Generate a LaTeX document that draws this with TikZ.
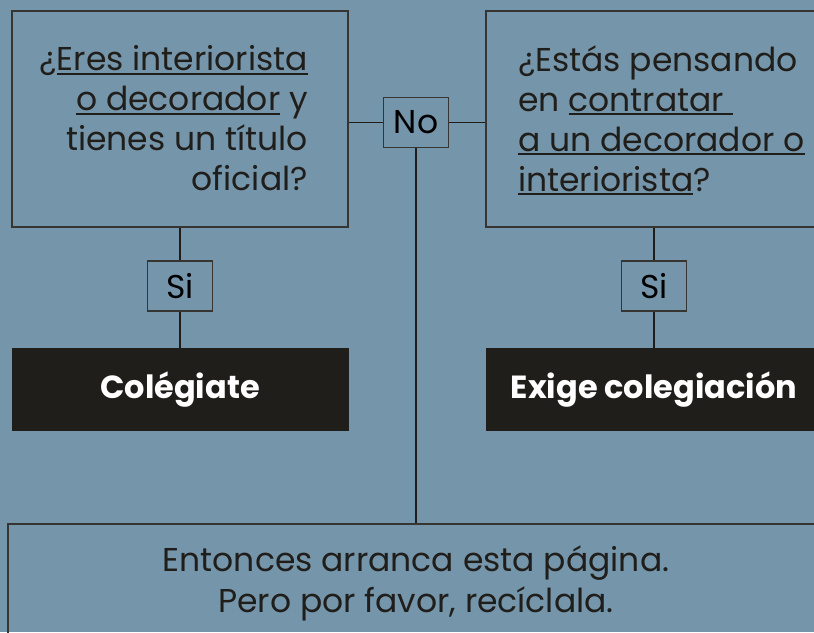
\documentclass[tikz,border=0pt]{standalone}
\usepackage{fontspec}
\setmainfont{Poppins}
\definecolor{fondo}{HTML}{7595AA}
\definecolor{tinta}{HTML}{201E1B}
\newsavebox{\cajatxt}
\newcommand{\rayar}[1]{\sbox{\cajatxt}{#1}\rlap{\rule[-4.2pt]{\wd\cajatxt}{2pt}}\usebox{\cajatxt}}
\tikzset{
	caja/.style		= {draw=tinta!90, line width=1.2pt, inner sep=0pt},
	negra/.style	= {fill=tinta, text=white, inner sep=0pt, font=\fontsize{32}{38}\selectfont\bfseries},
	rotulo/.style	= {caja, minimum width=65pt, minimum height=50pt, font=\fontsize{33}{38}\selectfont},
	texto/.style	= {text=tinta, inner sep=0pt, font=\fontsize{33}{40}\selectfont},
	enlace/.style	= {draw=tinta, line width=1.4pt},
}
\begin{document}
\begin{tikzpicture}[x=1pt, y=-1pt]
				% Clip
				\clip 					(0,0)	rectangle	(814,632)	;
				% Fond
				\fill [fondo]			(0,0)	rectangle	(814,632)	;
				% Cajas
				\node [caja, minimum width=336pt, minimum height=216pt]	(interiorista)	at (180,119)	{};
				\node [caja, minimum width=360pt, minimum height=216pt]	(contratar)		at (666,119)	{};
				\node [caja, minimum width=830pt, minimum height=140pt]	(arranca)		at (423,594)	{};
				\node [negra, minimum width=337pt, minimum height=83pt]	(colegiate)		at (180,389.5)	{Colégiate};
				\node [negra, minimum width=360pt, minimum height=83pt]	(exige)			at (666,389.5)	{};
				\node [negra, anchor=center]							(exigetxt)		at (654,389.5)	{Exige colegiación};
				% Rotulos
				\node [rotulo]	(no)	at (416,122.5)	{No};
				\node [rotulo]	(siA)	at (180,286)	{Si};
				\node [rotulo]	(siB)	at (654,286)	{Si};
				% Textos
				\node [texto, align=right, anchor=north east]	(txtA)	at (308,45)
					{¿\rayar{Eres interiorista}\\ \rayar{o decorador} y\\ tienes un título\\ oficial?};
				\node [texto, align=left, anchor=north west]	(txtB)	at (518,45)
					{¿Estás pensando\\ en \rayar{contratar\ }\\ \rayar{a un decorador o}\\ \rayar{interiorista}?};
				\node [texto, align=center, anchor=north, font=\fontsize{33}{41}\selectfont]	(txtC)	at (416,545)
					{Entonces arranca esta página.\\ Pero por favor, recíclala.};
				% Enlaces
				\draw [enlace]	(interiorista.east |- no)	-- (no.west);
				\draw [enlace]	(no.east)	-- (contratar.west |- no);
				\draw [enlace]	(no.south)	-- (arranca.north -| no);
				\draw [enlace]	(interiorista.south -| siA)	-- (siA.north);
				\draw [enlace]	(siA.south)	-- (colegiate.north -| siA);
				\draw [enlace]	(contratar.south -| siB)	-- (siB.north);
				\draw [enlace]	(siB.south)	-- (exige.north -| siB);
\end{tikzpicture}
\end{document}
